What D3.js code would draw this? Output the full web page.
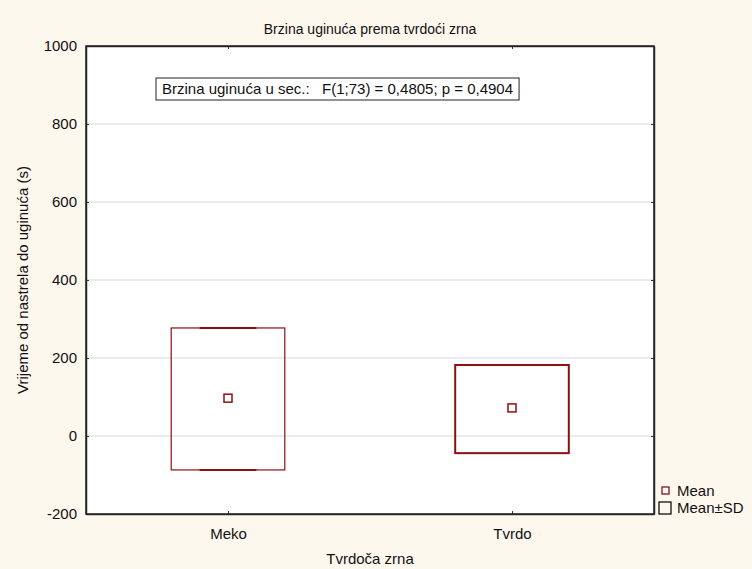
<!DOCTYPE html>
<html>
<head>
<meta charset="utf-8">
<script src="https://cdn.jsdelivr.net/npm/d3@7"></script>
<style>
  body { margin: 0; background: #fdf8ee; }
  text { font-family: "Liberation Sans", Arial, sans-serif; fill: #111; white-space: pre; }
</style>
</head>
<body>
<svg id="chart" width="752" height="569"></svg>
<script>
// data
const categories = ["Meko", "Tvrdo"];
const means = [97, 72];
const sdLow = [-87, -44];
const sdHigh = [277, 182];
const yTicks = [-200, 0, 200, 400, 600, 800, 1000];

const title = "Brzina uginuća prema tvrdoći zrna";
const xTitle = "Tvrdoča zrna";
const yTitle = "Vrijeme od nastrela do uginuća (s)";
const note = "Brzina uginuća u sec.:   F(1;73) = 0,4805; p = 0,4904";

const margin = { top: 46, right: 98, bottom: 55, left: 86 };
const W = 752, H = 569;
const width = W - margin.left - margin.right;
const height = H - margin.top - margin.bottom;
const red = "#8b1111";
const fs = "15px";

const svg = d3.select("#chart");
svg.append("rect").attr("width", W).attr("height", H).attr("fill", "#fdf8ee");

const g = svg.append("g").attr("class", "chart")
  .attr("transform", `translate(${margin.left},${margin.top})`);

const xScale = d3.scalePoint().domain(categories).range([0, width]).padding(0.5);
const yScale = d3.scaleLinear().domain([-200, 1000]).range([height, 0]);

g.append("rect").attr("width", width).attr("height", height).attr("fill", "#fff");

// grid
g.selectAll("line.grid")
  .data(yTicks.filter((d) => d > -200 && d < 1000))
  .join("line")
  .attr("class", "grid")
  .attr("x1", 0).attr("x2", width)
  .attr("y1", (d) => yScale(d)).attr("y2", (d) => yScale(d))
  .attr("stroke", "#e4e4e4").attr("stroke-width", 1.5);

// axes, ticks inward
const fmt = (d) => String(d);
const yAxis = g.append("g").call(d3.axisLeft(yScale).tickValues(yTicks).tickFormat(fmt).tickSizeInner(-3).tickSizeOuter(0).tickPadding(9));
const yAxisR = g.append("g").attr("transform", `translate(${width},0)`)
  .call(d3.axisRight(yScale).tickValues(yTicks).tickSizeInner(-3).tickSizeOuter(0).tickFormat(""));
const xAxis = g.append("g").attr("transform", `translate(0,${height})`)
  .call(d3.axisBottom(xScale).tickSizeInner(-3).tickSizeOuter(0).tickPadding(14));
const xAxisT = g.append("g")
  .call(d3.axisTop(xScale).tickSizeInner(-3).tickSizeOuter(0).tickFormat(""));

[yAxis, yAxisR, xAxis, xAxisT].forEach((a) => {
  a.attr("font-size", null).attr("font-family", null);
  a.select(".domain").attr("stroke", "#333").attr("stroke-width", 1.5);
  a.selectAll(".tick line").attr("stroke", "#333");
  a.selectAll("text").style("font-size", fs).attr("fill", "#111");
});

// mean +- sd boxes
const boxW = width * 0.2;
g.selectAll("rect.sd")
  .data(categories)
  .join("rect")
  .attr("class", "sd")
  .attr("x", (d) => xScale(d) - boxW / 2)
  .attr("width", boxW)
  .attr("y", (d, i) => yScale(sdHigh[i]))
  .attr("height", (d, i) => yScale(sdLow[i]) - yScale(sdHigh[i]))
  .attr("fill", "none")
  .attr("stroke", red)
  .attr("stroke-width", (d, i) => (i === 0 ? 1.2 : 2));

// small caps on the thin box, like in the original
g.selectAll("line.cap")
  .data(categories.flatMap((c, i) => (i === 0 ? [[c, sdHigh[i]], [c, sdLow[i]]] : [])))
  .join("line")
  .attr("class", "cap")
  .attr("x1", (d) => xScale(d[0]) - boxW / 4)
  .attr("x2", (d) => xScale(d[0]) + boxW / 4)
  .attr("y1", (d) => yScale(d[1]))
  .attr("y2", (d) => yScale(d[1]))
  .attr("stroke", red).attr("stroke-width", 2);

// means
g.selectAll("rect.mean")
  .data(categories)
  .join("rect")
  .attr("class", "mean")
  .attr("x", (d) => xScale(d) - 4)
  .attr("y", (d, i) => yScale(means[i]) - 4)
  .attr("width", 8).attr("height", 8)
  .attr("fill", "#fff").attr("stroke", red).attr("stroke-width", 1.5);

// border
g.append("rect").attr("width", width).attr("height", height)
  .attr("fill", "none").attr("stroke", "#222").attr("stroke-width", 1.5);

// annotation box
const noteBox = g.append("rect");
const nt = g.append("text").attr("x", 76).attr("y", 48)
  .style("font-size", fs).text(note);
const bb = nt.node().getBBox();
noteBox
  .attr("x", bb.x - 6).attr("y", 32).attr("width", bb.width + 12).attr("height", 22)
  .attr("fill", "#fff").attr("stroke", "#222").attr("stroke-width", 1);

// titles
svg.append("text").attr("x", margin.left + width / 2).attr("y", 34)
  .attr("text-anchor", "middle").style("font-size", "14px").text(title);
svg.append("text").attr("x", margin.left + width / 2).attr("y", 564)
  .attr("text-anchor", "middle").style("font-size", fs).text(xTitle);
svg.append("text").attr("transform", `translate(28,${margin.top + height / 2}) rotate(-90)`)
  .attr("text-anchor", "middle").style("font-size", fs).text(yTitle);

// legend
const lx = margin.left + width + 11;
const leg = svg.append("g");
leg.append("rect").attr("x", lx - 3).attr("y", 487).attr("width", 7).attr("height", 7)
  .attr("fill", "#fff").attr("stroke", red).attr("stroke-width", 1.3);
leg.append("text").attr("x", lx + 12).attr("y", 496).style("font-size", fs).text("Mean");
leg.append("rect").attr("x", lx - 6).attr("y", 502).attr("width", 12).attr("height", 12)
  .attr("fill", "none").attr("stroke", "#111").attr("stroke-width", 1.3);
leg.append("text").attr("x", lx + 12).attr("y", 513).style("font-size", fs).text("Mean±SD");
</script>
</body>
</html>
